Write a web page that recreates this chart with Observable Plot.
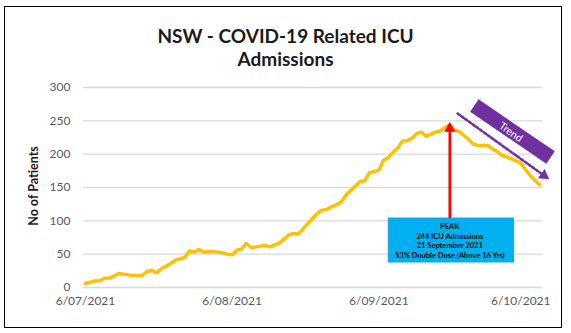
<!DOCTYPE html>
<html><head><meta charset="utf-8">
<script src="https://cdn.jsdelivr.net/npm/d3@7"></script>
<script src="https://cdn.jsdelivr.net/npm/@observablehq/plot@0.6"></script>
<style>
body{margin:0;background:#fff;font-family:Lato,"Open Sans",sans-serif;}
#wrap{position:relative;width:571px;height:333px;overflow:hidden;background:#fff;}
#frame{position:absolute;left:4px;top:6px;width:558px;height:322px;border:1.5px solid #000;box-sizing:border-box;pointer-events:none;}
#title{position:absolute;left:0;width:571px;top:24px;text-align:center;font-weight:bold;font-size:19px;line-height:23px;color:#1a1a1a;}
#ylabel{position:absolute;left:33px;top:186px;transform:translate(-50%,-50%) rotate(-90deg);font-weight:bold;font-size:12.5px;color:#1a1a1a;white-space:nowrap;}
#chart{position:absolute;left:0;top:0;}
</style></head><body>
<div id="wrap"><div id="chart"></div><div id="frame"></div>
<div id="title">NSW - COVID-19 Related ICU<br>Admissions</div>
<div id="ylabel">No of Patients</div></div>
<script>
// ---- data ----
const startDate = "2021-07-06";
const icuValues = [6,8,10,10,14,14,17,21,20,19,18,18,18,24,26,22,28,32,36,41,43,45,55,53,57,53,54,54,53,52,50,49,56,58,66,60,61,62,63,61,64,67,73,79,81,80,88,96,104,111,116,117,121,124,128,138,145,152,159,160,172,174,176,191,195,203,209,220,220,224,231,233,227,230,233,235,240,244,236,234,228,222,215,213,213,213,208,204,198,196,193,190,187,177,168,161,154];
const xTickDates = ["2021-07-06","2021-08-06","2021-09-06","2021-10-06"];
const yTicks = [0,50,100,150,200,250,300];
const peakDate = "2021-09-21";
const peakValue = 244;
const peakText = ["PEAK","244 ICU Admissions","21 September 2021","53% Double Dose (Above 16 Yrs)"];
const trendLabel = "Trend";

// ---- build ----
const t0 = new Date(startDate + "T00:00:00Z");
const day = (d) => new Date(t0.getTime() + d * 864e5);
const data = icuValues.map((v, i) => ({date: day(i), value: v}));
const peak = new Date(peakDate + "T00:00:00Z");

const gold = "#FFC000", purple = "#7030A0";

const chart = Plot.plot({
  width: 571, height: 333,
  marginLeft: 83, marginRight: 29, marginTop: 87, marginBottom: 46,
  style: {fontFamily: "Lato, 'Open Sans', sans-serif", fontSize: "12px", color: "#595959", background: "transparent"},
  x: {type: "utc", domain: [day(-0.42), day(96.6)], ticks: xTickDates.map(s => new Date(s + "T00:00:00Z")),
      tickFormat: d3.utcFormat("%-d/%m/%Y"), tickSize: 0, tickPadding: 9, label: null},
  y: {domain: [0, 300], ticks: yTicks, tickSize: 0, tickPadding: 13, label: null},
  marks: [
    Plot.ruleY(yTicks, {stroke: "#d9d9d9", strokeWidth: 1.3}),
    Plot.line(data, {x: "date", y: "value", stroke: gold, strokeWidth: 3.4, strokeLinejoin: "round", strokeLinecap: "round"}),
    // peak box
    Plot.rect([0], {x1: () => day(64.1), x2: () => day(90.6), y1: 37.5, y2: 103.5, fill: "#00B0F0", stroke: "#1aa6dc", strokeWidth: 1}),
    Plot.text([peakText.join("\n")], {x: () => peak, y: 70.5, text: d => d, fontSize: 7.5, fontWeight: "bold", fill: "#0a0a0a", lineHeight: 1.25, lineAnchor: "middle"}),
    // red arrow
    Plot.ruleX([peak], {y1: 103.5, y2: 236, stroke: "#FF0000", strokeWidth: 2.6}),
    Plot.dot([peak], {x: d => d, y: 238.5, symbol: "triangle", fill: "#FF0000", stroke: null, r: 4.2}),
    // trend band
    Plot.line([[82.2, 273], [98.3, 195]], {x: d => day(d[0]), y: d => d[1], stroke: purple, strokeWidth: 15, strokeLinecap: "butt"}),
    Plot.text([trendLabel], {x: () => day(89.9), y: 233, text: d => d, rotate: 35, fill: "#fff", fontSize: 10.5}),
    // dotted trend arrow
    Plot.line([[78.65, 261], [96.2, 171.6]], {x: d => day(d[0]), y: d => d[1], stroke: purple, strokeWidth: 2.6, strokeDasharray: "2.4,2.2"}),
    Plot.dot([[96.9, 168]], {x: d => day(d[0]), y: d => d[1], symbol: "triangle", fill: purple, stroke: null, r: 4.2, rotate: 125.7})
  ]
});
document.getElementById("chart").appendChild(chart);
</script>
</body></html>
